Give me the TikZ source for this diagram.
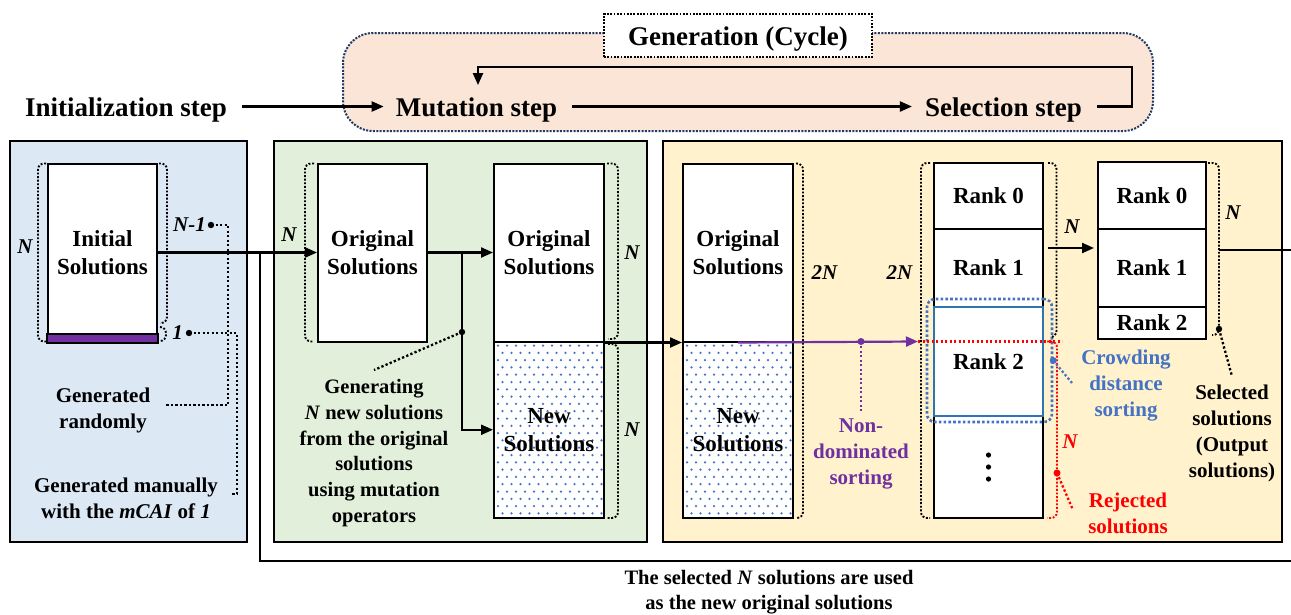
\documentclass[tikz,border=0pt]{standalone}
\usepackage{fontspec}
\setmainfont{Liberation Serif}
\usetikzlibrary{arrows.meta}
\definecolor{pblue}{HTML}{DDE8F5}
\definecolor{pgreen}{HTML}{E2EFDA}
\definecolor{pyellow}{HTML}{FFF2CC}
\definecolor{ppeach}{HTML}{FBE5D6}
\definecolor{ppurple}{HTML}{7030A0}
\definecolor{cblue}{HTML}{4472C4}
\definecolor{rankblue}{HTML}{2E75B6}
\definecolor{navy}{HTML}{203864}
\begin{document}
\begin{tikzpicture}[x=1pt,y=-1pt,
  big/.style={font=\fontsize{27}{32}\selectfont\bfseries, inner sep=0pt},
  lbl/.style={font=\fontsize{21}{26}\selectfont\bfseries, align=center, inner sep=0pt},
  nlbl/.style={font=\fontsize{21}{26}\selectfont\bfseries\itshape, inner sep=0pt},
  box/.style={draw=black, line width=2pt, fill=white, inner sep=0pt, align=center,
    font=\fontsize{23}{28}\selectfont\bfseries},
  panel/.style={draw=black, line width=2.2pt},
  arr/.style={line width=2.2pt, -{Triangle[length=12pt,width=10pt]}},
  ln/.style={line width=2.2pt},
  dotln/.style={line width=2.3pt, dash pattern=on 2.3pt off 2.2pt},
  brk/.style={line width=1.9pt, dash pattern=on 1.9pt off 1.7pt, rounded corners=6pt},
  dotfill/.style={path picture={
    \foreach \j in {0,...,24}{
      \foreach \i in {0,...,12}{
        \fill[cblue] ([xshift={4pt+\i*9pt+isodd(\j)*4.5pt}, yshift={-4pt-\j*7.3pt}]path picture bounding box.north west) circle (1.25pt);
      }}}},
]
\useasboundingbox (0,0) rectangle (1291,614);

% ---------- top: generation cycle ----------
\draw[fill=ppeach, draw=navy, line width=2pt, dash pattern=on 2pt off 1.4pt, rounded corners=30pt]
  (343,33) rectangle (1153,131);
\node[draw=black, line width=1.8pt, dash pattern=on 1.8pt off 1.5pt, fill=white,
  minimum width=268pt, minimum height=43pt, big, text height=21pt, text depth=1pt]
  (gen) at (738,35.5) {Generation (Cycle)};

\node[big, anchor=base] (init) at (126,116) {Initialization step};
\node[big, anchor=base] (mut) at (476.5,116) {Mutation step};
\node[big, anchor=base] (sel) at (1003.5,116) {Selection step};
\coordinate (cyc) at (1132,67);
\draw[arr] ([xshift=15pt,yshift=3pt]init.east) -- ([xshift=-12pt,yshift=3pt]mut.west);
\draw[arr] ([xshift=15pt,yshift=3pt]mut.east) -- ([xshift=-13pt,yshift=3pt]sel.west);
\draw[arr] ([xshift=15pt,yshift=3pt]sel.east) -| (cyc) -| ([xshift=1.5pt,yshift=12pt]mut.north);

% ---------- panels ----------
\draw[panel, fill=pblue] (10,141) rectangle (247,542);
\draw[panel, fill=pgreen] (274,141) rectangle (647,542);
\draw[panel, fill=pyellow] (663,141) rectangle (1282,542);

% ---------- initialization panel ----------
\node[box, minimum width=109pt, minimum height=178pt] (initb) at (102.5,252.5) {Initial\\Solutions};
\filldraw[fill=ppurple, draw=black, line width=2pt] (initb.south west) rectangle ([yshift=9pt]initb.south east);
\draw[brk] (46,163.5) -- (38,163.5) -- (38,341.5) -- (46,341.5);
\draw[brk] (159,163.5) -- (167,163.5) -- (167,323) -- (160,323);
\draw[brk] (160,327) -- (166,327) -- (166,341) -- (160,341);
\node[nlbl] (lN) at (25,247) {N};
\node[nlbl] (lN1) at (189.5,225) {N-1};
\node[nlbl] (l1) at (177.5,333) {1};
\coordinate (dN1) at (211,225);
\coordinate (d1) at (189,333);
\fill (dN1) circle (3.2pt);
\fill (d1) circle (3.2pt);
\node[lbl] (grand) at (103,410) {Generated\\randomly};
\node[lbl] (gman) at (126,498) {Generated manually\\with the \textit{mCAI} of \textit{1}};
\coordinate (e1) at (166,405);
\coordinate (e2) at (232,494);
\draw[dotln] (dN1) -- (228,225) -- (228,405) -- (e1);
\draw[dotln] (d1) -- (237,333) -- (237,494) -- (e2);

% ---------- mutation panel ----------
\node[box, minimum width=109pt, minimum height=178pt] (ob1) at (372.5,252.5) {Original\\Solutions};
\draw[brk] (314,163.5) -- (305,163.5) -- (305,341.5) -- (314,341.5);
\node[nlbl] (lN2) at (289,235) {N};
\node[box, minimum width=110pt, minimum height=178pt] (os1) at (549,252.5) {Original\\Solutions};
\node[box, dotfill, minimum width=110pt, minimum height=176.5pt] (ns1) at (549,429.75) {New\\Solutions};
\draw[brk] (607,163.5) -- (618,163.5) -- (618,339) -- (608,339);
\draw[brk] (608,344) -- (618,344) -- (618,518) -- (607,518);
\node[nlbl] (lN3) at (632,253) {N};
\node[nlbl] (lN4) at (632,430) {N};
\draw[arr] (initb.east) -- (ob1.west);
\draw[arr] (ob1.east) -- (os1.west);
\coordinate (br) at (462,252.5);
\draw[arr] (br) |- (ns1.west);
\coordinate (gdot) at (462,332);
\fill (gdot) circle (3.2pt);
\node[lbl, font=\fontsize{20.5}{25.8}\selectfont\bfseries] (gtxt) at (374,453)
  {Generating\\\textit{N} new solutions\\from the original\\solutions\\using mutation\\operators};
\draw[dotln] (gdot) -- ([yshift=9pt]gtxt.north);

% ---------- selection panel ----------
\node[box, minimum width=110pt, minimum height=178pt] (os2) at (738,252.5) {Original\\Solutions};
\node[box, dotfill, minimum width=110pt, minimum height=176.5pt] (ns2) at (738,429.75) {New\\Solutions};
\draw[arr] (os1.south east) -- (os2.south west);
\draw[brk] (796,163.5) -- (803,163.5) -- (803,518) -- (796,518);
\node[nlbl] (l2N) at (824.5,273) {2N};
\node[nlbl] (l2Nb) at (899.5,273) {2N};
\draw[brk] (930,163) -- (921,163) -- (921,518) -- (930,518);

\node[box, minimum width=109pt, minimum height=66pt] (r0) at (988.5,196) {Rank 0};
\node[box, minimum width=109pt, minimum height=78pt] (r1) at (988.5,268) {Rank 1};
\node[box, minimum width=109pt, minimum height=102pt] (rd) at (988.5,467) {};
\node[box, draw=rankblue, minimum width=109pt, minimum height=109pt] (r2) at (988.5,361.5) {Rank 2};
\foreach \k in {-1,0,1} \fill ([yshift=\k*12pt]rd.center) circle (2.6pt);
\node[draw=cblue, line width=2.6pt, dash pattern=on 2.6pt off 2.2pt, rounded corners=8pt,
  minimum width=125pt, minimum height=123pt, inner sep=0pt] (crowd) at (989.5,360.5) {};

\coordinate (ndtip) at (918,341.5);
\draw[arr, ppurple] (os2.south) -- (ndtip);
\coordinate (nddot) at (861,341.5);
\fill[ppurple] (nddot) circle (3.5pt);
\node[lbl, text=ppurple] (ndtxt) at (861,454) {Non-\\dominated\\sorting};
\draw[dotln, ppurple] (nddot) -- ([yshift=8pt]ndtxt.north);

\coordinate (redend) at (1062,341.5);
\draw[dotln, red] (ndtip) -- (redend);
\draw[brk] (1048,163) -- (1056.5,163) -- (1056.5,337) -- (1050,337);
\draw[brk, red] (1047,341.5) -- (1057,341.5) -- (1057,518) -- (1047,518);
\node[nlbl, text=red] (rN) at (1070,442) {N};
\coordinate (rdot) at (1057,473);
\fill[red] (rdot) circle (3.5pt);
\node[lbl, text=red] (rej) at (1128,513) {Rejected\\solutions};
\coordinate (rend) at (1073,510);
\draw[dotln, red] (rdot) -- (rend);

\fill[cblue] (crowd.east) circle (3.5pt);
\node[lbl, text=cblue] (cds) at (1126,386) {Crowding\\distance\\sorting};
\coordinate (cend) at (1072,383);
\draw[dotln, cblue] (crowd.east) -- (cend);

\node[box, minimum width=108pt, minimum height=67pt] (s0) at (1152,195.5) {Rank 0};
\node[box, minimum width=108pt, minimum height=78pt] (s1) at (1152,268) {Rank 1};
\node[box, minimum width=108pt, minimum height=32pt] (s2) at (1152,323) {Rank 2};
\draw[arr] ([xshift=4pt,yshift=20pt]r1.east) -- ([xshift=-3pt,yshift=20pt]s1.west);
\node[nlbl] (sN) at (1072,227) {N};
\draw[brk] (1208,163) -- (1219,163) -- (1219,335) -- (1212,335);
\node[nlbl] (sN2) at (1233,213) {N};
\coordinate (sdot) at (1219,329);
\fill (sdot) circle (3.2pt);
\node[lbl] (seltxt) at (1232,433) {Selected\\solutions\\(Output\\solutions)};
\draw[dotln] (sdot) -- ([yshift=8pt]seltxt.north);

% ---------- feedback ----------
\coordinate (fb) at (1219,250);
\coordinate (fbj) at (260,252.5);
\draw[ln] (fb) -- (1295,250) -- (1295,561) -- (260,561) -- (fbj);
\node[lbl, font=\fontsize{20.5}{24.5}\selectfont\bfseries] (bottom) at (769,592)
  {The selected \textit{N} solutions are used\\as the new original solutions};
\end{tikzpicture}
\end{document}
